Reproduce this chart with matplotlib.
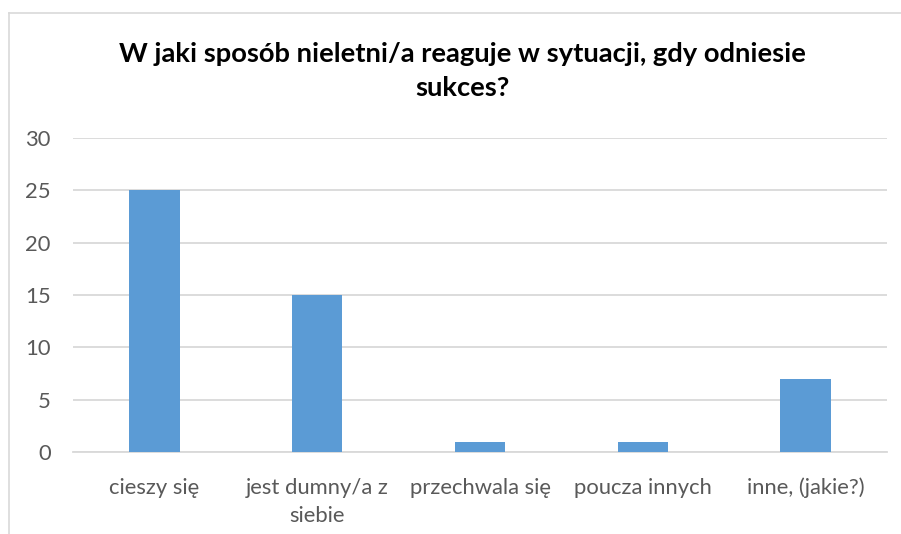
import matplotlib.pyplot as plt
from matplotlib.lines import Line2D

categories = ['cieszy się', 'jest dumny/a z\nsiebie', 'przechwala się', 'poucza innych', 'inne, (jakie?)']
counts = [25, 15, 1, 1, 7]
y_ticks = [0, 5, 10, 15, 20, 25, 30]

TITLE = 'W jaki sposób nieletni/a reaguje w sytuacji, gdy odniesie\nsukces?'
BAR_COLOR = '#5B9BD5'
GRID_COLOR = '#D9D9D9'
TEXT_COLOR = '#595959'

plt.rcParams['font.family'] = ['Lato', 'DejaVu Sans']

W, H = 901, 534
fig = plt.figure(figsize=(W / 100, H / 100), dpi=100)
ax = fig.add_axes([73 / W, 82 / H, (887 - 73) / W, (452 - 138) / H])

x = range(len(categories))
ax.bar(x, counts, width=0.31, color=BAR_COLOR, zorder=3)

ax.set_xlim(-0.5, len(categories) - 0.5)
ax.set_ylim(0, 30)
ax.set_yticks(y_ticks)
ax.set_xticks(list(x))
ax.set_xticklabels(categories, linespacing=1.5)
ax.tick_params(axis='both', length=0, labelsize=15.8, colors=TEXT_COLOR)
ax.tick_params(axis='y', pad=16)
ax.tick_params(axis='x', pad=18.5)

ax.grid(axis='y', color=GRID_COLOR, linewidth=1.3, zorder=0)
for side in ['top', 'right', 'left']:
    ax.spines[side].set_visible(False)
ax.spines['bottom'].set_color(GRID_COLOR)
ax.spines['bottom'].set_linewidth(1.3)

fig.text(462 / W, 1 - 71 / H, TITLE, ha='center', va='center', fontsize=19.7,
         fontweight='bold', color='#000000', linespacing=1.45)

# chart frame, only the left and top edges fall inside the image
fig.add_artist(Line2D([8.5 / W, 8.5 / W], [0, 1 - 12.5 / H], color=GRID_COLOR, linewidth=1.2))
fig.add_artist(Line2D([8.5 / W, 1], [1 - 12.5 / H, 1 - 12.5 / H], color=GRID_COLOR, linewidth=1.2))

fig.savefig('out.png', dpi=100)
